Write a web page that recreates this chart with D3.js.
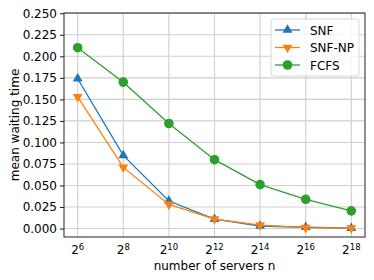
<!DOCTYPE html>
<html>
<head>
<meta charset="utf-8">
<script src="https://cdn.jsdelivr.net/npm/d3@7"></script>
<style>
  body { margin: 0; background: #fff; }
  text { font-family: "DejaVu Sans", sans-serif; }
</style>
</head>
<body>
<div id="chart"></div>
<script>
// exponents of n = 2^k
const exponents = [6, 8, 10, 12, 14, 16, 18];
const snf   = [0.174, 0.085, 0.032, 0.011, 0.003, 0.0015, 0.0004];
const snfNp = [0.153, 0.071, 0.028, 0.011, 0.004, 0.001, 0.0005];
const fcfs  = [0.210, 0.170, 0.122, 0.080, 0.051, 0.034, 0.0205];
const yTicks = [0, 0.025, 0.05, 0.075, 0.1, 0.125, 0.15, 0.175, 0.2, 0.225, 0.25];

const series = [
    { name: "SNF", values: snf, color: "#1f77b4", marker: "up" },
    { name: "SNF-NP", values: snfNp, color: "#ff7f0e", marker: "down" },
    { name: "FCFS", values: fcfs, color: "#2ca02c", marker: "circle" }
];

const width = 374, height = 280;
const margin = { top: 13, right: 9, bottom: 43, left: 64 };
const innerW = width - margin.left - margin.right;
const innerH = height - margin.top - margin.bottom;

const svg = d3.select("#chart").append("svg")
    .attr("width", width)
    .attr("height", height);

const g = svg.append("g").attr("transform", `translate(${margin.left},${margin.top})`);

// log2 x axis with 5% margins in exponent space
const x = d3.scaleLog().base(2)
    .domain([Math.pow(2, 5.4), Math.pow(2, 18.6)])
    .range([0, innerW]);
const y = d3.scaleLinear()
    .domain([-0.0098, 0.2503])
    .range([innerH, 0]);

// grid
g.append("g").selectAll("line").data(yTicks).join("line")
    .attr("x1", 0).attr("x2", innerW)
    .attr("y1", d => y(d)).attr("y2", d => y(d))
    .attr("stroke", "#cfcfcf").attr("stroke-width", 1.1);
g.append("g").selectAll("line").data(exponents).join("line")
    .attr("x1", d => x(Math.pow(2, d))).attr("x2", d => x(Math.pow(2, d)))
    .attr("y1", 0).attr("y2", innerH)
    .attr("stroke", "#cfcfcf").attr("stroke-width", 1.1);

// y axis
const yAxis = g.append("g")
    .call(d3.axisLeft(y).tickValues(yTicks).tickFormat(d3.format(".3f")).tickSize(4).tickPadding(3));
yAxis.select(".domain").remove();
yAxis.selectAll("text").style("font-size", "12px").attr("fill", "#000");
yAxis.selectAll("line").attr("stroke", "#000").attr("stroke-width", 0.9);

// x tick labels as 2^k
const xLab = g.append("g").selectAll("text").data(exponents).join("text")
    .attr("x", d => x(Math.pow(2, d)))
    .attr("y", innerH + 17)
    .attr("text-anchor", "middle")
    .style("font-size", "12px");
xLab.append("tspan").text("2");
xLab.append("tspan").attr("dy", "-0.45em").style("font-size", "8.5px").text(d => d);

// frame
g.append("rect")
    .attr("width", innerW).attr("height", innerH)
    .attr("fill", "none").attr("stroke", "#222").attr("stroke-width", 1);

// axis labels
svg.append("text")
    .attr("x", margin.left + innerW / 2)
    .attr("y", 270)
    .attr("text-anchor", "middle")
    .style("font-size", "12px")
    .text("number of servers n");
svg.append("text")
    .attr("transform", `translate(19,${margin.top + innerH / 2}) rotate(-90)`)
    .attr("text-anchor", "middle")
    .style("font-size", "12px")
    .text("mean waiting time");

const sym = {
    up: d3.symbol().type(d3.symbolTriangle).size(42)(),
    down: d3.symbol().type(d3.symbolTriangle).size(42)(),
    circle: d3.symbol().type(d3.symbolCircle).size(72)()
};
function drawMarker(sel, s) {
    sel.append("path")
        .attr("d", sym[s.marker])
        .attr("fill", s.color)
        .attr("transform", s.marker === "down" ? "rotate(180)" : null);
}

const line = d3.line()
    .x(d => x(Math.pow(2, d[0])))
    .y(d => y(d[1]));

series.forEach(s => {
    const pts = exponents.map((e, i) => [e, s.values[i]]);
    g.append("path")
        .datum(pts)
        .attr("d", line)
        .attr("fill", "none")
        .attr("stroke", s.color)
        .attr("stroke-width", 1.3);
    g.append("g").selectAll("g").data(pts).join("g")
        .attr("transform", d => `translate(${x(Math.pow(2, d[0]))},${y(d[1])})`)
        .each(function () { drawMarker(d3.select(this), s); });
});

// legend
const lg = svg.append("g").attr("transform", "translate(271,19)");
lg.append("rect")
    .attr("width", 88).attr("height", 57).attr("rx", 3)
    .attr("fill", "rgba(255,255,255,0.8)")
    .attr("stroke", "#d9d9d9").attr("stroke-width", 1);
series.forEach((s, i) => {
    const row = lg.append("g").attr("transform", `translate(0,${11 + i * 17.5})`);
    row.append("line")
        .attr("x1", 4).attr("x2", 29)
        .attr("stroke", s.color).attr("stroke-width", 1.3);
    const m = row.append("g").attr("transform", "translate(16.5,0)");
    drawMarker(m, s);
    row.append("text")
        .attr("x", 39).attr("y", 4.5)
        .style("font-size", "12px")
        .text(s.name);
});
</script>
</body>
</html>
